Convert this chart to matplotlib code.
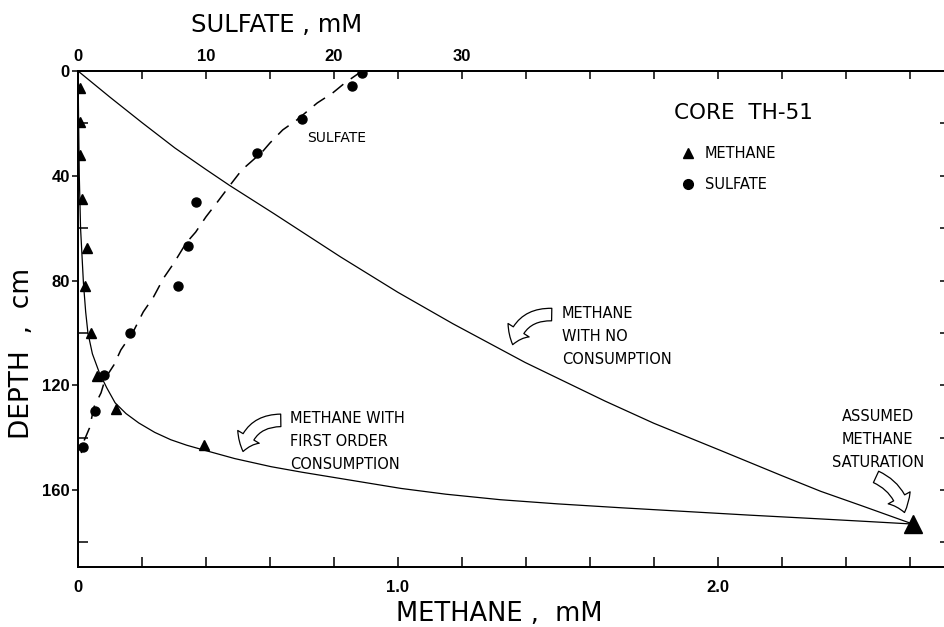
import matplotlib
matplotlib.use("Agg")
import matplotlib.pyplot as plt
from matplotlib.patches import FancyArrowPatch
from matplotlib.lines import Line2D

# ---- Core TH-51 pore-water profiles -------------------------------------
# Methane measurements: depth (cm) and concentration (mM)
methane_depth = [6.5, 19.5, 32, 49, 67.5, 82, 100, 116.4, 129, 143]
methane_mM = [0.006, 0.005, 0.006, 0.014, 0.028, 0.023, 0.04, 0.06, 0.12, 0.395]

# Assumed methane saturation at the base of the core
saturation_depth = 173
saturation_mM = 2.61

# Sulfate measurements: depth (cm) and concentration (mM)
sulfate_depth = [0.8, 5.7, 18.3, 31.3, 50, 67, 82, 100, 116, 130, 143.5]
sulfate_mM = [22.2, 21.4, 17.5, 14.0, 9.25, 8.6, 7.8, 4.05, 2.05, 1.32, 0.42]

# Hand-fitted sulfate trend (dashed)
sulfate_fit_depth = [0, 4.6, 8.4, 12.2, 18.7, 22.5, 27.5, 30.9, 37.8, 43.5, 50.0,
                     55.7, 61.5, 65.7, 73.3, 79.0, 86.3, 92.0, 99.7, 106.5, 112.3,
                     117.2, 122.9, 128.3, 136.3, 140.9, 145.9]
sulfate_fit_mM = [22.2, 20.85, 19.9, 18.7, 17.1, 16.0, 15.0, 14.4, 12.8, 11.9, 10.9,
                  10.0, 9.2, 8.45, 7.5, 6.7, 5.9, 5.1, 4.3, 3.35, 2.8,
                  2.15, 1.8, 1.25, 0.9, 0.5, 0.26]

# Model profile: methane with no consumption
no_consumption_depth = [0, 10.0, 19.7, 29.4, 37.6, 43.7, 54.5, 71, 84.5, 96.5, 111.3,
                        126, 134.5, 145, 154.5, 160.5, 166, 173]
no_consumption_mM = [0, 0.1, 0.2, 0.303, 0.4, 0.474, 0.613, 0.821, 1.0, 1.172, 1.398,
                     1.647, 1.8, 2.011, 2.2, 2.322, 2.45, 2.61]

# Model profile: methane with first order consumption
first_order_depth = [0, 20, 40, 60, 81, 92, 100, 108, 115.3, 121, 126.7, 130.8, 134.4,
                     138, 140.8, 142.9, 144.8, 148, 151.1, 153.2, 155.2, 157.2, 159.4,
                     161.6, 163.7, 165.3, 166.8, 168.2, 169.6, 170.9, 171.9, 173]
first_order_mM = [0, 0.002, 0.004, 0.008, 0.017, 0.024, 0.031, 0.045, 0.067, 0.09,
                  0.116, 0.15, 0.19, 0.24, 0.29, 0.34, 0.395, 0.49, 0.604, 0.70,
                  0.80, 0.90, 1.01, 1.15, 1.32, 1.50, 1.70, 1.90, 2.10, 2.30, 2.45,
                  2.61]

# Axis ticks
methane_major = [0, 1.0, 2.0]
methane_major_labels = ["0", "1.0", "2.0"]
methane_minor = [round(0.2 * i, 1) for i in range(14)]
sulfate_ticks = list(range(0, 70, 5))
sulfate_tick_labels = ["0", "", "10", "", "20", "", "30"] + [""] * 7
depth_major = [0, 40, 80, 120, 160]
depth_minor = [20, 60, 100, 140, 180]
depth_right = list(range(20, 200, 20))

W, H = 944, 627
plt.rcParams["font.family"] = ["DejaVu Sans"]
fig = plt.figure(figsize=(W / 100, H / 100), dpi=100)
ax = fig.add_axes([78 / W, 60 / H, 870 / W, 496 / H])
ax.set_xlim(0, 2.72)
ax.set_ylim(189.4, 0)

ax_s = ax.twiny()
ax_s.set_xlim(0, 68)

for a in (ax, ax_s):
    for sp in a.spines.values():
        sp.set_linewidth(1.3)

tick_font = dict(family="Liberation Sans", weight="bold", size=12)

# bottom axis: methane
ax.set_xticks(methane_major)
ax.set_xticklabels(methane_major_labels, fontdict=tick_font)
ax.set_xticks(methane_minor, minor=True)
ax.tick_params(axis="x", which="both", direction="in", length=7, width=1.1, pad=9)

# left axis: depth
ax.set_yticks(depth_major)
ax.set_yticklabels([str(v) for v in depth_major], fontdict=tick_font)
ax.set_yticks(depth_minor, minor=True)
ax.tick_params(axis="y", which="major", direction="out", length=4, width=1.1, pad=2)
ax.tick_params(axis="y", which="minor", direction="in", length=7, width=1.1)

# top axis: sulfate
ax_s.set_xticks(sulfate_ticks)
ax_s.set_xticklabels(sulfate_tick_labels, fontdict=tick_font)
ax_s.tick_params(axis="x", direction="in", length=6, width=1.1, pad=5)

# right side ticks
sec = ax.secondary_yaxis("right")
sec.set_yticks(depth_right)
sec.tick_params(direction="in", length=6, width=1.1, labelright=False)
sec.spines["right"].set_linewidth(1.3)

# model curves
ax.plot(no_consumption_mM, no_consumption_depth, color="black", lw=0.9)
ax.plot(first_order_mM, first_order_depth, color="black", lw=0.9)

# sulfate trend and data
ax_s.plot(sulfate_fit_mM, sulfate_fit_depth, color="black", lw=1.1,
          dashes=(9, 6))
ax_s.plot(sulfate_mM, sulfate_depth, "o", color="black", ms=6.5)

# methane data
ax.plot(methane_mM, methane_depth, "^", color="black", ms=7)
ax.plot([saturation_mM], [saturation_depth], "^", color="black", ms=13)

# legend block
ax.text(1.8625, 16.0, "CORE  TH-51", fontsize=15.5, ha="left", va="center")
leg_tri = Line2D([], [], ls="none", marker="^", color="black", ms=7)
leg_circ = Line2D([], [], ls="none", marker="o", color="black", ms=7)
ax_s.legend([leg_tri, leg_circ], ["METHANE", "SULFATE"], loc="upper left",
            bbox_to_anchor=(0.694, 0.848), frameon=False, fontsize=10.5,
            handlelength=0.8, handletextpad=0.8, labelspacing=1.1,
            borderpad=0, borderaxespad=0)

# annotations
ax.text(0.716, 25.6, "SULFATE", fontsize=10, ha="left", va="center")
ax.text(1.5125, 101.4, "METHANE\nWITH NO\nCONSUMPTION", fontsize=10.5,
        ha="left", va="center", linespacing=1.65)
ax.text(0.6625, 141.5, "METHANE WITH\nFIRST ORDER\nCONSUMPTION", fontsize=10.5,
        ha="left", va="center", linespacing=1.65)
ax.text(2.50, 140.7, "ASSUMED\nMETHANE\nSATURATION", fontsize=10.5,
        ha="center", va="center", multialignment="center", linespacing=1.65)

arrow_style = "simple,head_length=0.75,head_width=1.2,tail_width=0.6"
for tail, tip, rad in [((1.481, 93.0), (1.359, 104.5), 0.4),
                       ((0.634, 133.4), (0.516, 145.3), 0.4),
                       ((2.495, 155.0), (2.584, 168.6), -0.25)]:
    arr = FancyArrowPatch(tail, tip, arrowstyle=arrow_style, mutation_scale=15,
                          connectionstyle=f"arc3,rad={rad}", facecolor="white",
                          edgecolor="black", lw=0.9, zorder=5,
                          shrinkA=0, shrinkB=0)
    ax.add_patch(arr)

# axis titles
fig.text(277 / W, 1 - 25 / H, "SULFATE , mM", fontsize=17.5, ha="center", va="center")
fig.text(499 / W, 1 - 614 / H, "METHANE ,  mM", fontsize=18.5, ha="center", va="center")
fig.text(22 / W, 1 - 353 / H, "DEPTH  ,  cm", fontsize=19, ha="center", va="center",
         rotation=90)

fig.savefig("out.png", dpi=100)
